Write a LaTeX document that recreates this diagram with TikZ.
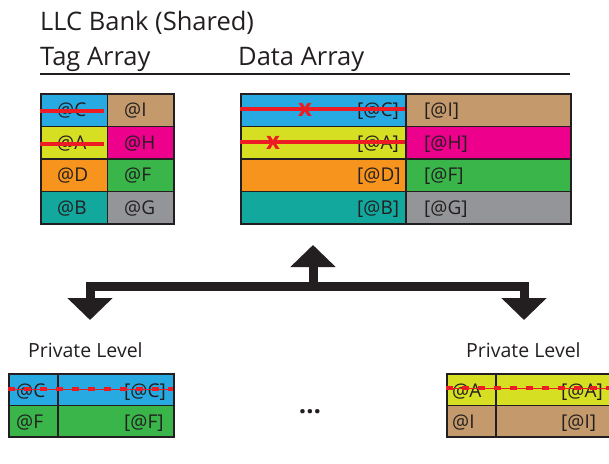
\documentclass[tikz,border=0pt]{standalone}
\usepackage{fontspec}
\setmainfont{Open Sans}
\usetikzlibrary{arrows.meta}

\definecolor{ink}{HTML}{231F20}
\definecolor{cyanC}{HTML}{27AAE1}
\definecolor{yellowC}{HTML}{D7DF23}
\definecolor{orangeC}{HTML}{F7941D}
\definecolor{tealC}{HTML}{12A89D}
\definecolor{tanC}{HTML}{C49A6C}
\definecolor{magentaC}{HTML}{EC008C}
\definecolor{greenC}{HTML}{39B54A}
\definecolor{greyC}{HTML}{939598}
\definecolor{redC}{HTML}{ED1C24}

\begin{document}
\begin{tikzpicture}[x=1pt,y=-1pt,
  cell/.style={draw=ink, line width=1.5pt, anchor=north west, inner sep=0pt},
  tagcell/.style={cell, minimum width=66.5pt, minimum height=32.5pt},
  datacell/.style={cell, minimum width=165pt, minimum height=32.5pt},
  lab/.style={font=\fontsize{19}{19}\selectfont, text=ink, inner sep=0pt, anchor=base west},
  head/.style={font=\fontsize{25.5}{25.5}\selectfont, text=ink, inner sep=0pt, anchor=base west},
  sub/.style={font=\fontsize{19.5}{19.5}\selectfont, text=ink, inner sep=0pt, anchor=base west},
  strike/.style={draw=redC, line width=3.2pt},
  miss/.style={font=\fontsize{24}{24}\selectfont\bfseries, text=redC, inner sep=0pt, anchor=base},
  evict/.style={draw=redC, line width=3.5pt, dash pattern=on 7pt off 9pt},
  evictthin/.style={draw=redC, line width=1pt},
  bus/.style={draw=ink, line width=9pt, line join=miter},
  tip/.style={-{Triangle[length=22pt,width=44pt]}}
]
\useasboundingbox (0,0) rectangle (609,463);

% headings
\node[head] (title) at (40,30) {LLC Bank (Shared)};
\node[head] (tagT) at (40,65.5) {Tag Array};
\node[head] (dataT) at (238,65.5) {Data Array};
\draw[draw=ink, line width=2pt] (40,73.5) -- (570,73.5);

% tag array
\node[tagcell, fill=cyanC]    (tC) at (40,93) {};
\node[tagcell, fill=tanC]     (tI) at (106.5,93) {};
\node[tagcell, fill=yellowC]  (tA) at (40,125.5) {};
\node[tagcell, fill=magentaC] (tH) at (106.5,125.5) {};
\node[tagcell, fill=orangeC]  (tD) at (40,158) {};
\node[tagcell, fill=greenC]   (tF) at (106.5,158) {};
\node[tagcell, fill=tealC]    (tB) at (40,190.5) {};
\node[tagcell, fill=greyC]    (tG) at (106.5,190.5) {};

\node[lab] (tCl) at (57,116.5) {@C};
\node[lab] (tIl) at (124,116.5) {@I};
\node[lab] (tAl) at (57,149) {@A};
\node[lab] (tHl) at (124,149) {@H};
\node[lab] (tDl) at (57,181.5) {@D};
\node[lab] (tFl) at (124,181.5) {@F};
\node[lab] (tBl) at (57,214) {@B};
\node[lab] (tGl) at (124,214) {@G};

\draw[strike] (40,111) -- (104,111);
\draw[strike] (40,144) -- (104,144);

% data array
\node[datacell, fill=cyanC]    (dC) at (240,93) {};
\node[datacell, fill=tanC]     (dI) at (405,93) {};
\node[datacell, fill=yellowC]  (dA) at (240,125.5) {};
\node[datacell, fill=magentaC] (dH) at (405,125.5) {};
\node[datacell, fill=orangeC]  (dD) at (240,158) {};
\node[datacell, fill=greenC]   (dF) at (405,158) {};
\node[datacell, fill=tealC]    (dB) at (240,190.5) {};
\node[datacell, fill=greyC]    (dG) at (405,190.5) {};

\node[lab] (dCl) at (357,116.5) {[@C]};
\node[lab] (dIl) at (424,116.5) {[@I]};
\node[lab] (dAl) at (357,149) {[@A]};
\node[lab] (dHl) at (424,149) {[@H]};
\node[lab] (dDl) at (357,181.5) {[@D]};
\node[lab] (dFl) at (424,181.5) {[@F]};
\node[lab] (dBl) at (357,214) {[@B]};
\node[lab] (dGl) at (424,214) {[@G]};

\draw[strike] (240,109) -- (405,109);
\draw[strike] (240,142) -- (405,142);
\node[miss] (xC) at (305,116) {x};
\node[miss] (xA) at (273,149) {x};

% fill/return network
\coordinate (hub) at (313,286.5);
\coordinate (upTip) at (313,245);
\coordinate (lTip) at (90,320);
\coordinate (rTip) at (524,320);
\draw[bus, tip] (hub) -- (upTip);
\draw[bus, {Triangle[length=22pt,width=44pt]}-{Triangle[length=22pt,width=44pt]}]
  (lTip) |- (hub) -| (rTip);

% private level, left
\node[sub] (pL) at (28,357.5) {Private Level};
\node[cell, fill=cyanC,  minimum width=49pt,  minimum height=31.5pt] (lC)  at (8,373) {};
\node[cell, fill=cyanC,  minimum width=116pt, minimum height=31.5pt] (lCd) at (57,373) {};
\node[cell, fill=greenC, minimum width=49pt,  minimum height=31.5pt] (lF)  at (8,404.5) {};
\node[cell, fill=greenC, minimum width=116pt, minimum height=31.5pt] (lFd) at (57,404.5) {};
\node[lab] (lCl)  at (16,397) {@C};
\node[lab] (lCdl) at (124,397) {[@C]};
\node[lab] (lFl)  at (16,428.5) {@F};
\node[lab] (lFdl) at (124,428.5) {[@F]};
\draw[evictthin] (8,389) -- (173,389);
\draw[evict] (8,389) -- (173,389);

% ellipsis between private levels
\node[font=\fontsize{26}{26}\selectfont\bfseries, text=ink, inner sep=0pt, anchor=base] (dots) at (310,413) {…};

% private level, right
\node[sub] (pR) at (466,357.5) {Private Level};
\node[cell, fill=yellowC, minimum width=49pt,  minimum height=31.5pt] (rA)  at (446,373) {};
\node[cell, fill=yellowC, minimum width=125pt, minimum height=31.5pt] (rAd) at (495,373) {};
\node[cell, fill=tanC,    minimum width=49pt,  minimum height=31.5pt] (rI)  at (446,404.5) {};
\node[cell, fill=tanC,    minimum width=125pt, minimum height=31.5pt] (rId) at (495,404.5) {};
\node[lab] (rAl)  at (452,397) {@A};
\node[lab] (rAdl) at (561,397) {[@A]};
\node[lab] (rIl)  at (452,428.5) {@I};
\node[lab] (rIdl) at (561,428.5) {[@I]};
\draw[evictthin] (446,388) -- (612,388);
\draw[evict] (446,388) -- (612,388);
\end{tikzpicture}
\end{document}
